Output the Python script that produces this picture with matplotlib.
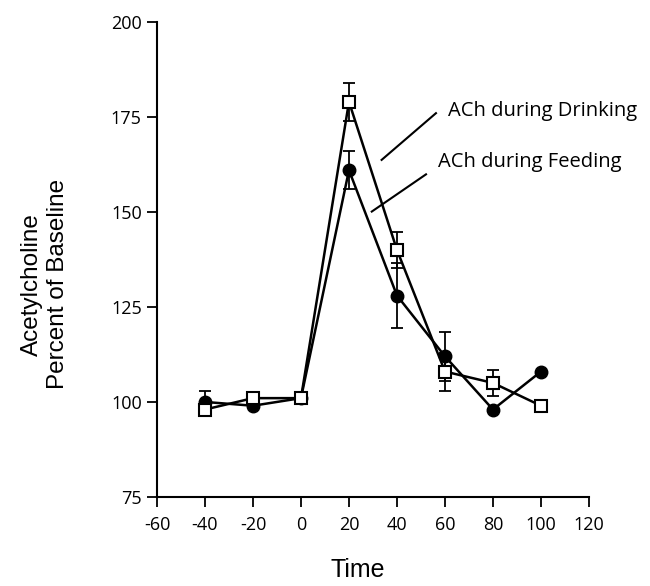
import matplotlib
matplotlib.use("Agg")
import matplotlib.pyplot as plt
import numpy as np

time = [-40, -20, 0, 20, 40, 60, 80, 100]
feeding = [100, 99, 101, 161, 128, 112, 98, 108]
feeding_err = [3, 0, 0, 5, 8.5, 6.5, 0, 0]
drinking = [98, 101, 101, 179, 140, 108, 105, 99]
drinking_err = [0, 0, 0, 5, 4.7, 5, 3.5, 0]
xticks = [-60, -40, -20, 0, 20, 40, 60, 80, 100, 120]
yticks = [75, 100, 125, 150, 175, 200]

fig = plt.figure(figsize=(6.5, 5.86), dpi=100)
ax = fig.add_axes([0.2415, 0.152, 0.6646, 0.8105])

tick_font = "Open Sans"
lab_font = "Liberation Sans"

ax.errorbar(time, feeding, yerr=feeding_err, fmt='none', ecolor='black',
            elinewidth=1.3, capsize=4, capthick=1.3, zorder=2)
ax.errorbar(time, drinking, yerr=drinking_err, fmt='none', ecolor='black',
            elinewidth=1.3, capsize=4, capthick=1.3, zorder=2)
ax.plot(time, feeding, '-', color='black', lw=1.8, marker='o', ms=9,
        mfc='black', mec='black', zorder=3)
ax.plot(time, drinking, '-', color='black', lw=1.8, marker='s', ms=8.5,
        mfc='white', mec='black', mew=1.5, zorder=4)

ax.set_xlim(-60, 120)
ax.set_ylim(75, 200)
ax.set_xticks(xticks)
ax.set_xticklabels([str(v) for v in xticks])
ax.set_yticks(yticks)
ax.set_yticklabels([str(v) for v in yticks])
ax.spines['top'].set_visible(False)
ax.spines['right'].set_visible(False)
ax.spines['left'].set_linewidth(1.5)
ax.spines['bottom'].set_linewidth(1.5)
ax.tick_params(direction='out', length=7, width=1.3, labelsize=13)
ax.tick_params(axis='x', pad=7)
ax.tick_params(axis='y', pad=4)
for lbl in ax.get_xticklabels() + ax.get_yticklabels():
    lbl.set_fontfamily(tick_font)

ax.set_xlabel("Time", fontsize=18, fontfamily=lab_font)
ax.xaxis.set_label_coords(0.465, -0.128)
fig.text(0.069, 0.515, "Acetylcholine\nPercent of Baseline", fontsize=17.5,
         fontfamily=lab_font, rotation=90, ha='center', va='center',
         linespacing=1.25, multialignment='center')

# annotation lines and labels
ax.plot([33.6, 56.25], [163.7, 176.0], color='black', lw=1.5, clip_on=False)
ax.plot([29.5, 52.1], [150.1, 159.9], color='black', lw=1.5, clip_on=False)
ax.text(61.25, 176.7, "ACh during Drinking", fontsize=14.5, fontfamily=tick_font,
        va='center', ha='left')
ax.text(57.1, 163.2, "ACh during Feeding", fontsize=14.5, fontfamily=tick_font,
        va='center', ha='left')

fig.savefig("out.png", dpi=100)
